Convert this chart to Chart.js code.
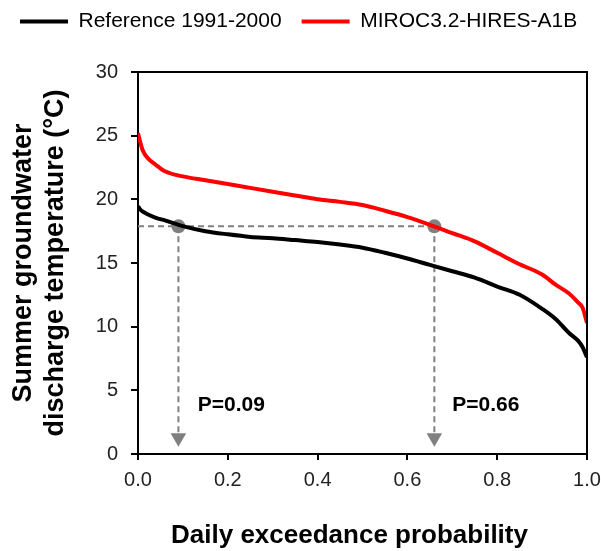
<!DOCTYPE html>
<html>
<head>
<meta charset="UTF-8">
<title>Summer groundwater discharge temperature</title>
<script src="https://cdn.jsdelivr.net/npm/chart.js"></script>
<style>
  html, body { margin: 0; padding: 0; background: #fff; }
  #wrap { width: 601px; height: 551px; }
</style>
</head>
<body>
<div id="wrap"><canvas id="chart"></canvas></div>

<script>
// exceedance probability (x) and temperatures
var prob = [0, 0.005, 0.01, 0.02, 0.04, 0.06, 0.1, 0.15, 0.2, 0.25, 0.3, 0.35, 0.4, 0.45,
            0.5, 0.55, 0.6, 0.65, 0.7, 0.75, 0.8, 0.85, 0.9, 0.93, 0.96, 0.98, 0.99, 1.0];
var refTemp = [19.45, 19.2, 19.05, 18.85, 18.55, 18.35, 17.9, 17.5, 17.25, 17.05, 16.95, 16.8, 16.65, 16.45,
               16.2, 15.8, 15.35, 14.85, 14.35, 13.85, 13.15, 12.5, 11.4, 10.6, 9.5, 8.9, 8.4, 7.6];
var mirocTemp = [25.2, 24.5, 23.9, 23.3, 22.7, 22.2, 21.8, 21.5, 21.2, 20.9, 20.6, 20.3, 20.0, 19.8,
                 19.55, 19.1, 18.6, 18.0, 17.35, 16.7, 15.8, 14.9, 14.1, 13.3, 12.6, 11.9, 11.5, 10.3];
var seriesNames = ['Reference 1991-2000', 'MIROC3.2-HIRES-A1B'];
var xTitle = 'Daily exceedance probability';

// marker lines: same temperature, two probabilities
var crossTemp = 17.88;
var crossProb = [0.09, 0.66];
var dashEndTemp = 1.7;
var arrowTemp = 1.28;
var pLabels = ['P=0.09', 'P=0.66'];
var pLabelX = [0.133, 0.70];
var pLabelY = 3.87;

var FONT = "'Liberation Sans', Arial, sans-serif";
var GRAY = '#808080';

function pts(xs, ys) {
    var out = [];
    for (var i = 0; i < xs.length; i++) out.push({x: xs[i], y: ys[i]});
    return out;
}

var datasets = [
    {label: seriesNames[0], data: pts(prob, refTemp), borderColor: '#000', backgroundColor: '#000',
     borderWidth: 4, pointRadius: 0, cubicInterpolationMode: 'monotone'},
    {label: seriesNames[1], data: pts(prob, mirocTemp), borderColor: '#ff0000', backgroundColor: '#ff0000',
     borderWidth: 4, pointRadius: 0, cubicInterpolationMode: 'monotone'},
    // dashed guide lines
    {label: '_h', data: [{x: 0, y: crossTemp}, {x: crossProb[1], y: crossTemp}], borderColor: GRAY,
     borderWidth: 2, borderDash: [6, 4], pointRadius: 0},
    {label: '_v1', data: [{x: crossProb[0], y: crossTemp}, {x: crossProb[0], y: dashEndTemp}], borderColor: GRAY,
     borderWidth: 2, borderDash: [6, 4], pointRadius: 0},
    {label: '_v2', data: [{x: crossProb[1], y: crossTemp}, {x: crossProb[1], y: dashEndTemp}], borderColor: GRAY,
     borderWidth: 2, borderDash: [6, 4], pointRadius: 0},
    // dots on the curves
    {label: '_dots', data: crossProb.map(function (p) { return {x: p, y: crossTemp}; }), showLine: false,
     pointRadius: 7, pointBackgroundColor: GRAY, pointBorderWidth: 0},
    // arrow heads
    {label: '_arrows', data: crossProb.map(function (p) { return {x: p, y: arrowTemp}; }), showLine: false,
     pointStyle: 'triangle', pointRotation: 180, pointRadius: 9, pointBackgroundColor: GRAY, pointBorderWidth: 0}
];

var LEGEND_PAD = 20;

// legend: full canvas width, a bit taller so the plot starts lower, nudged up
var legendGap = {
    id: 'legendGap',
    beforeLayout: function (chart) {
        var lg = chart.legend;
        if (lg && !lg._patched) {
            var fit = lg.fit;
            lg.fit = function () {
                this.maxWidth = this.chart.width;
                fit.call(this);
                this.height += 21;
            };
            lg._patched = true;
        }
    },
    afterLayout: function (chart) {
        var lg = chart.legend;
        if (lg) {
            lg.top -= (LEGEND_PAD - 11);
            lg.bottom -= (LEGEND_PAD - 11);
            lg.right = chart.width;
            lg.width = chart.width - lg.left;
        }
    }
};

// box frame, P labels, x title (sits a little left of the plot centre)
var extras = {
    id: 'extras',
    afterDraw: function (chart) {
        var ctx = chart.ctx, a = chart.chartArea;
        var xs = chart.scales.x, ys = chart.scales.y;
        ctx.save();
        ctx.strokeStyle = '#000';
        ctx.lineWidth = 2;
        ctx.beginPath();
        ctx.moveTo(a.left, a.top);
        ctx.lineTo(a.right, a.top);
        ctx.lineTo(a.right, a.bottom);
        ctx.stroke();

        ctx.fillStyle = '#000';
        ctx.font = 'bold 21px ' + FONT;
        ctx.textAlign = 'left';
        ctx.textBaseline = 'middle';
        for (var i = 0; i < pLabels.length; i++) {
            ctx.fillText(pLabels[i], xs.getPixelForValue(pLabelX[i]), ys.getPixelForValue(pLabelY));
        }

        ctx.font = 'bold 26px ' + FONT;
        ctx.textAlign = 'center';
        ctx.fillText(xTitle, (a.left + a.right) / 2 - 13, a.bottom + 82);
        ctx.restore();
    }
};

var ctx = document.getElementById('chart').getContext('2d');
var chart = new Chart(ctx, {
    type: 'line',
    data: {datasets: datasets},
    plugins: [legendGap, extras],
    options: {
        responsive: true,
        maintainAspectRatio: false,
        animation: false,
        layout: {padding: {left: 0, right: 14, top: 0, bottom: 0}},
        plugins: {
            tooltip: {enabled: false},
            legend: {
                position: 'top',
                align: 'start',
                labels: {
                    boxWidth: 48,
                    boxHeight: 0,
                    padding: LEGEND_PAD,
                    color: '#000',
                    font: {family: FONT, size: 21},
                    filter: function (item) { return item.text.charAt(0) !== '_'; }
                }
            }
        },
        scales: {
            x: {
                type: 'linear',
                min: 0, max: 1,
                afterFit: function (s) { s.height = 97; s.paddingRight = 0; s.paddingLeft = 0; },
                border: {color: '#000', width: 2},
                grid: {display: true, drawOnChartArea: false, drawTicks: true, tickLength: 6, color: '#000', lineWidth: 2},
                ticks: {
                    stepSize: 0.2, padding: 8, color: '#222',
                    font: {family: FONT, size: 20},
                    callback: function (v) { return v.toFixed(1); }
                },
                title: {display: false}
            },
            y: {
                min: 0, max: 30,
                afterFit: function (s) { s.width = 138; },
                border: {color: '#000', width: 2},
                grid: {display: true, drawOnChartArea: false, drawTicks: true, tickLength: 7, color: '#000', lineWidth: 2},
                ticks: {
                    stepSize: 5, padding: 13, color: '#222',
                    font: {family: FONT, size: 20}
                },
                title: {
                    display: true, text: ['Summer groundwater', 'discharge temperature (\u00B0C)'], color: '#000',
                    font: {family: FONT, size: 27, weight: 'bold'},
                    padding: {top: 7, bottom: 0}
                }
            }
        }
    }
});
</script>
</body>
</html>
